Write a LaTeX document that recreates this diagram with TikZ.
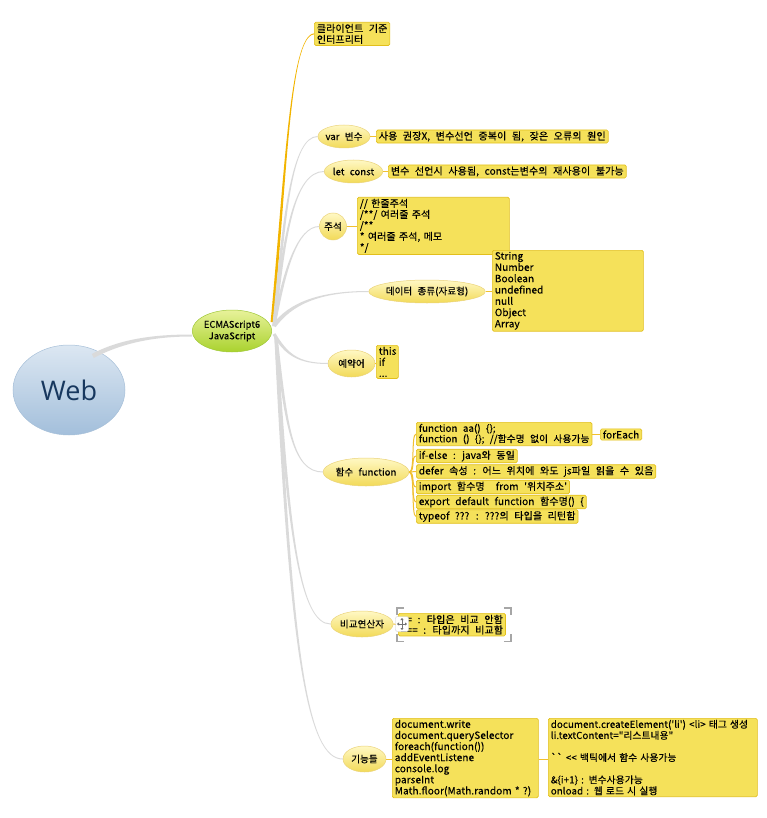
\documentclass[tikz,border=0pt]{standalone}
\usepackage{fontspec}
\newfontfamily\basefont{Noto Sans CJK KR}[WordSpace=2.4, LetterSpace=1, FakeBold=0.3]
\newfontfamily\webfont{Open Sans}
\usetikzlibrary{shapes.geometric,calc,arrows.meta}
\definecolor{boxfill}{HTML}{F5E15A}
\definecolor{boxdraw}{HTML}{E2BF1C}
\definecolor{linkgray}{HTML}{DADADA}
\definecolor{leafline}{HTML}{F0C030}
\definecolor{orangeline}{HTML}{F2B400}
\definecolor{topictop}{HTML}{FFF8C4}
\definecolor{topicbot}{HTML}{F2DA58}
\definecolor{topicdraw}{HTML}{EAD37A}
\definecolor{greentop}{HTML}{E8F29A}
\definecolor{greenbot}{HTML}{A9D22E}
\definecolor{greendraw}{HTML}{A0C83A}
\definecolor{bluetop}{HTML}{DCE7F2}
\definecolor{bluebot}{HTML}{A3BFDB}
\definecolor{bluedraw}{HTML}{A6BFD8}
\definecolor{navy}{HTML}{17375E}
% tapered connector: #1 colour, #2 start, #3 c1 (rel. start), #4 c2 (rel. end), #5 end, #6 half-width vector at start
\newcommand\tlink[6]{%
  \fill[#1] ($(#2)-(#6)$) .. controls ($(#2)+(#3)-(#6)$) and ($(#5)+(#4)+(0,-0.5)$) .. ($(#5)+(0,-0.5)$)
    -- ($(#5)+(0,0.5)$) .. controls ($(#5)+(#4)+(0,0.5)$) and ($(#2)+(#3)+(#6)$) .. ($(#2)+(#6)$) -- cycle;}
\begin{document}
\begin{tikzpicture}[x=1pt,y=-1pt,
  leaf/.style={draw=boxdraw, fill=boxfill, rounded corners=1.5pt, line width=0.7pt,
    inner xsep=2.5pt, inner ysep=1.5pt, align=left, font=\basefont\fontsize{10}{11}\selectfont},
  topic/.style={ellipse, draw=topicdraw, top color=topictop, bottom color=topicbot,
    line width=0.5pt, inner sep=0pt, font=\basefont\fontsize{9.5}{11}\selectfont},
  leafl/.style={draw=leafline, line width=1pt},
  selc/.style={draw=black!35, line width=1.6pt},
]
\useasboundingbox (0,0) rectangle (767,818);

% central nodes
\node[ellipse, draw=bluedraw, top color=bluetop, bottom color=bluebot, line width=0.5pt,
  minimum width=112, minimum height=90, inner sep=0pt, text=navy,
  font=\webfont\fontsize{27}{30}\selectfont] (web) at (69,390) {Web};
\node[ellipse, draw=greendraw, top color=greentop, bottom color=greenbot, line width=0.5pt,
  minimum width=76, minimum height=42, inner sep=0pt, align=center,
  font=\basefont\fontsize{9.3}{11.5}\selectfont] (ecma) at (232,331) {ECMAScript6\\JavaScript};

% topic nodes
\node[topic, minimum width=46, minimum height=23] (var) at (344,136.5) {var 변수};
\node[topic, minimum width=49, minimum height=23] (let) at (353.5,171.5) {let const};
\node[topic, minimum width=27, minimum height=27] (cmt) at (333,226.5) {주석};
\node[topic, minimum width=110, minimum height=23] (data) at (427,291.5) {데이터 종류(자료형)};
\node[topic, minimum width=47, minimum height=27] (rsv) at (351.5,363.5) {예약어};
\node[topic, minimum width=74, minimum height=28] (func) at (366,472) {함수 function};
\node[topic, minimum width=62, minimum height=26] (cmp) at (362,624) {비교연산자};
\node[topic, minimum width=43, minimum height=26] (feat) at (364.5,759) {기능들};

% connector start points
\coordinate (r0) at (272,322);
\coordinate (r1) at (274,326);
\coordinate (r2) at (274,334);
\coordinate (r3) at (276,337);

% connector Web -> ECMAScript6
\fill[linkgray] ($(web.north east)+(-17,-4)$) .. controls +(30,-16) and +(-35,0) .. ($(ecma.west)+(0,3.5)$)
  -- ($(ecma.west)+(0,5.5)$) .. controls +(-35,0) and +(30,-16) .. ($(web.north east)+(-15,0)$) -- cycle;

% leaf boxes
\node[leaf, anchor=north west] (cli) at (314,22) {클라이언트 기준\\인터프리터};
\node[leaf, anchor=west] (varb) at (376,136.5) {사용 권장X, 변수선언 중복이 됨, 잦은 오류의 원인};
\node[leaf, anchor=west] (letb) at (388,171.5) {변수 선언시 사용됨, const는변수의 재사용이 불가능};
\node[leaf, anchor=north west, text width=147] (cmtb) at (357,197)
  {// 한줄주석\\/**/ 여러줄 주석\\/**\\{*} 여러줄 주석, 메모\\{*}/};
\node[leaf, anchor=north west, text width=146, font=\basefont\fontsize{10}{11.3}\selectfont] (datab) at (492,250)
  {String\\Number\\Boolean\\undefined\\null\\Object\\Array};
\node[leaf, anchor=north west, text width=17] (rsvb) at (376,345) {this\\if\\...};

\node[leaf, anchor=north west, font=\basefont\fontsize{9.7}{10.5}\selectfont] (f1) at (416,422)
  {function aa() \{\};\\function () \{\}; //함수명 없이 사용가능};
\node[leaf, anchor=west] (fe) at (600,434.5) {forEach};
\node[leaf, anchor=west] (f2) at (416,456) {if-else : java와 동일};
\node[leaf, anchor=west] (f3) at (416,471.5) {defer 속성 : 어느 위치에 와도 js파일 읽을 수 있음};
\node[leaf, anchor=west] (f4) at (416,487) {import 함수명 \ from '위치주소'};
\node[leaf, anchor=west] (f5) at (416,502) {export default function 함수명() \{};
\node[leaf, anchor=west] (f6) at (416,516.5) {typeof ??? : ???의 타입을 리턴함};

\node[leaf, anchor=north west, font=\basefont\fontsize{10}{10.5}\selectfont] (cmpb) at (398,613)
  {== : 타입은 비교 안함\\=== : 타입까지 비교함};

\node[leaf, anchor=north west, text width=141, font=\basefont\fontsize{10}{11.1}\selectfont] (fb1) at (392,718)
  {document.write\\document.querySelector\\foreach(function())\\addEventListene\\console.log\\parseInt\\Math.floor(Math.random * ?)};
\node[leaf, anchor=north west, text width=204, font=\basefont\fontsize{9.7}{11.1}\selectfont] (fb2) at (548,718)
  {document.createElement('li') <li> 태그 생성\\li.textContent="리스트내용"\\[11.1pt]`` << 백틱에서 함수 사용가능\\[11.1pt]\&\{i+1\} : 변수사용가능\\onload : 웹 로드 시 실행};

% tapered connectors from ECMAScript6 node
\tlink{orangeline}{r0}{14,-150}{-24,2}{cli.west}{1.4,0}
\tlink{linkgray}{r1}{10,-110}{-26,0}{var.west}{1.6,0}
\tlink{linkgray}{r1}{10,-90}{-30,0}{let.west}{1.6,0}
\tlink{linkgray}{r1}{10,-55}{-22,0}{cmt.west}{1.6,0}
\tlink{linkgray}{r1}{16,-22}{-50,0}{data.west}{1.6,1.2}
\tlink{linkgray}{r2}{12,20}{-30,0}{rsv.west}{-1.4,0.8}
\tlink{linkgray}{r3}{10,90}{-30,0}{func.west}{-1.6,0}
\tlink{linkgray}{r3}{12,200}{-30,0}{cmp.west}{-1.6,0}
\tlink{linkgray}{r3}{15,320}{-35,0}{feat.west}{-1.6,0}

% topic to leaf lines
\draw[leafl] (var.east) -- (varb.west);
\draw[leafl] (let.east) -- (letb.west);
\draw[leafl] (cmt.east) -- (cmt.east -| cmtb.west);
\draw[leafl] (data.east) -- (data.east -| datab.west);
\draw[leafl] (rsv.east) -- (rsv.east -| rsvb.west);
\foreach \b in {f1,f2,f3,f4,f5,f6}
  \draw[leafl] (func.east) .. controls +(6,0) and +(-5,0) .. (\b.west);
\draw[leafl] (f1.east |- fe.west) -- (fe.west);
\draw[leafl] (cmp.east) -- (cmpb.west);
\draw[leafl] (feat.east) -- (feat.east -| fb1.west);
\draw[leafl] (fb1.east |- feat.east) -- (feat.east -| fb2.west);

% selection marks around the comparison box
\coordinate (s1) at ($(cmpb.north west)+(-1,-5)$);
\coordinate (s2) at ($(cmpb.south east)+(5,5)$);
\draw[selc] ($(s1)+(0,7)$) -- (s1) -- ($(s1)+(7,0)$);
\draw[selc] ($(s2 |- s1)+(-7,0)$) -- (s2 |- s1) -- ($(s2 |- s1)+(0,7)$);
\draw[selc] ($(s1 |- s2)+(0,-7)$) -- (s1 |- s2) -- ($(s1 |- s2)+(7,0)$);
\draw[selc] ($(s2)+(-7,0)$) -- (s2) -- ($(s2)+(0,-7)$);
\node[draw=black!20, fill=white, rounded corners=2pt, minimum width=13, minimum height=15, inner sep=0pt] (mv) at (402,624) {};
\draw[black!55, line width=0.8pt, {Triangle[length=2pt,width=3pt]}-{Triangle[length=2pt,width=3pt]}] ($(mv.center)+(-5,0)$) -- ($(mv.center)+(5,0)$);
\draw[black!55, line width=0.8pt, {Triangle[length=2pt,width=3pt]}-{Triangle[length=2pt,width=3pt]}] ($(mv.center)+(0,-6)$) -- ($(mv.center)+(0,6)$);
\end{tikzpicture}
\end{document}
